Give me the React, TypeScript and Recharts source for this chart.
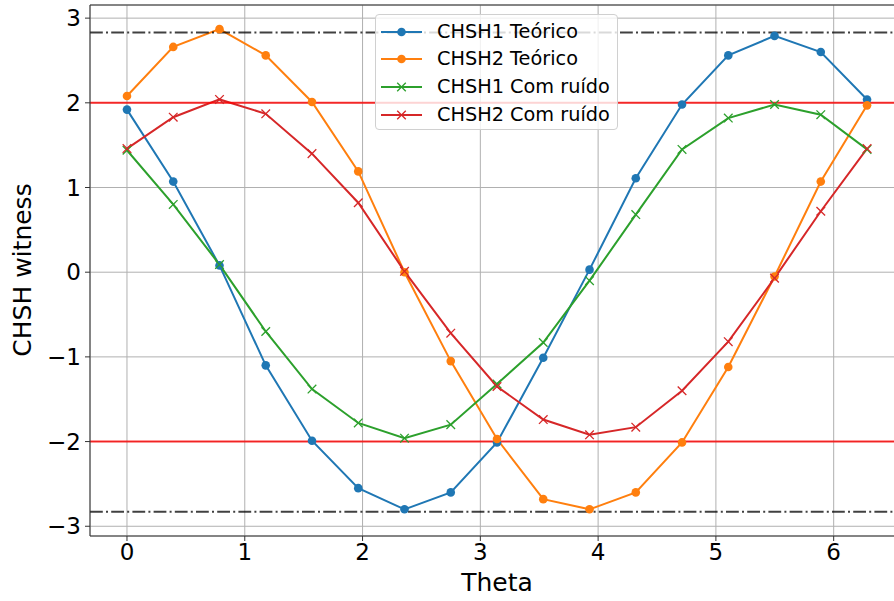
import React from "react";
import { LineChart, Line, XAxis, YAxis, CartesianGrid, ReferenceLine, Label } from "recharts";

// theta samples (0 .. 2pi, step pi/8)
const theta = [0, 0.3927, 0.7854, 1.1781, 1.5708, 1.9635, 2.3562, 2.7489, 3.1416, 3.5343, 3.927, 4.3197, 4.7124, 5.1051, 5.4978, 5.8905, 6.2832];

const chsh1Teorico = [1.92, 1.07, 0.08, -1.1, -1.99, -2.55, -2.8, -2.6, -2.01, -1.01, 0.03, 1.11, 1.98, 2.56, 2.79, 2.6, 2.04];
const chsh2Teorico = [2.08, 2.66, 2.87, 2.56, 2.01, 1.19, 0.0, -1.05, -1.97, -2.68, -2.8, -2.6, -2.01, -1.12, -0.05, 1.07, 1.97];
const chsh1Ruido = [1.44, 0.8, 0.09, -0.7, -1.38, -1.78, -1.96, -1.8, -1.32, -0.83, -0.1, 0.68, 1.45, 1.82, 1.98, 1.86, 1.45];
const chsh2Ruido = [1.46, 1.83, 2.04, 1.87, 1.4, 0.82, 0.01, -0.72, -1.35, -1.74, -1.92, -1.83, -1.4, -0.82, -0.07, 0.72, 1.46];

const xTicks = [0, 1, 2, 3, 4, 5, 6];
const yTicks = [-3, -2, -1, 0, 1, 2, 3];

const classicalBound = 2;
const tsirelsonBound = 2.83;

const X_DOMAIN: [number, number] = [-0.314, 6.597];
const Y_DOMAIN: [number, number] = [-3.115, 3.155];

const FONT = "DejaVu Sans, sans-serif";

const series = [
  { key: "c1t", name: "CHSH1 Teórico", color: "#1f77b4", marker: "o" },
  { key: "c2t", name: "CHSH2 Teórico", color: "#ff7f0e", marker: "o" },
  { key: "c1n", name: "CHSH1 Com ruído", color: "#2ca02c", marker: "x" },
  { key: "c2n", name: "CHSH2 Com ruído", color: "#d62728", marker: "x" },
];

const data = theta.map((t, i) => ({
  theta: t,
  c1t: chsh1Teorico[i],
  c2t: chsh2Teorico[i],
  c1n: chsh1Ruido[i],
  c2n: chsh2Ruido[i],
}));

const fmt = (v: number) => (v < 0 ? `\u2212${-v}` : `${v}`);

const XMark = (props: any) => {
  const { cx, cy, stroke, index } = props;
  if (cx == null || cy == null) return <g key={index} />;
  const s = 4.3;
  return (
    <g key={index} stroke={stroke} strokeWidth={1.3}>
      <line x1={cx - s} y1={cy - s} x2={cx + s} y2={cy + s} />
      <line x1={cx - s} y1={cy + s} x2={cx + s} y2={cy - s} />
    </g>
  );
};

// legend drawn as an overlay so it sits above the bound lines
const LegendBox = () => (
  <div
    style={{
      position: "absolute",
      left: 375,
      top: 14,
      width: 241,
      height: 114,
      border: "1px solid #d0d0d0",
      borderRadius: 4,
      background: "rgba(255,255,255,0.8)",
      fontFamily: FONT,
      fontSize: 19.3,
      color: "#000",
    }}
  >
    {series.map((s, i) => (
      <div key={s.key} style={{ position: "absolute", left: 5, top: 16.7 + i * 27.7 - 12, height: 24, display: "flex", alignItems: "center" }}>
        <svg width={41} height={24}>
          <line x1={0} y1={12} x2={41} y2={12} stroke={s.color} strokeWidth={2} />
          {s.marker === "o" ? (
            <circle cx={20.5} cy={12} r={4.3} fill={s.color} />
          ) : (
            <g stroke={s.color} strokeWidth={1.3}>
              <line x1={16.2} y1={7.7} x2={24.8} y2={16.3} />
              <line x1={16.2} y1={16.3} x2={24.8} y2={7.7} />
            </g>
          )}
        </svg>
        <span style={{ marginLeft: 15, whiteSpace: "nowrap", lineHeight: "24px" }}>{s.name}</span>
      </div>
    ))}
  </div>
);

export default function App() {
  return (
    <div style={{ position: "absolute", left: 0, top: 0, width: 894, height: 601, overflow: "hidden", background: "#fff" }}>
      <LineChart width={920} height={601} data={data} margin={{ top: 5, right: 16, bottom: 0, left: 0 }}>
        <CartesianGrid stroke="#b0b0b0" strokeWidth={1} />
        <XAxis
          dataKey="theta"
          type="number"
          domain={X_DOMAIN}
          ticks={xTicks}
          height={65}
          stroke="#333"
          tickSize={5}
          tickMargin={3}
          tick={{ fill: "#000", fontSize: 23, fontFamily: FONT }}
        >
          <Label
            content={({ viewBox }: any) => (
              <text x={viewBox.x + viewBox.width / 2} y={591} textAnchor="middle" fontSize={25} fontFamily={FONT} fill="#000">
                Theta
              </text>
            )}
          />
        </XAxis>
        <YAxis
          type="number"
          domain={Y_DOMAIN}
          ticks={yTicks}
          width={90}
          stroke="#333"
          tickSize={5}
          tickMargin={4}
          tickFormatter={fmt}
          tick={{ fill: "#000", fontSize: 23, fontFamily: FONT }}
        >
          <Label
            content={() => {
              const cx = 31;
              const cy = 270;
              return (
                <text x={cx} y={cy} transform={`rotate(-90 ${cx} ${cy})`} textAnchor="middle" fontSize={25} fontFamily={FONT} fill="#000">
                  CHSH witness
                </text>
              );
            }}
          />
        </YAxis>
        <ReferenceLine y={Y_DOMAIN[1]} stroke="#333" strokeWidth={1} />
        {series.map((s) => (
          <Line
            key={s.key}
            dataKey={s.key}
            name={s.name}
            stroke={s.color}
            strokeWidth={2}
            isAnimationActive={false}
            dot={s.marker === "o" ? { r: 4.3, fill: s.color, stroke: s.color, strokeWidth: 0 } : <XMark />}
            activeDot={false}
          />
        ))}
        <ReferenceLine y={classicalBound} stroke="red" strokeOpacity={0.8} strokeWidth={2} />
        <ReferenceLine y={-classicalBound} stroke="red" strokeOpacity={0.8} strokeWidth={2} />
        <ReferenceLine y={tsirelsonBound} stroke="#000" strokeOpacity={0.75} strokeWidth={2} strokeDasharray="12.8 3.2 2 3.2" />
        <ReferenceLine y={-tsirelsonBound} stroke="#000" strokeOpacity={0.75} strokeWidth={2} strokeDasharray="12.8 3.2 2 3.2" />
      </LineChart>
      <LegendBox />
    </div>
  );
}
